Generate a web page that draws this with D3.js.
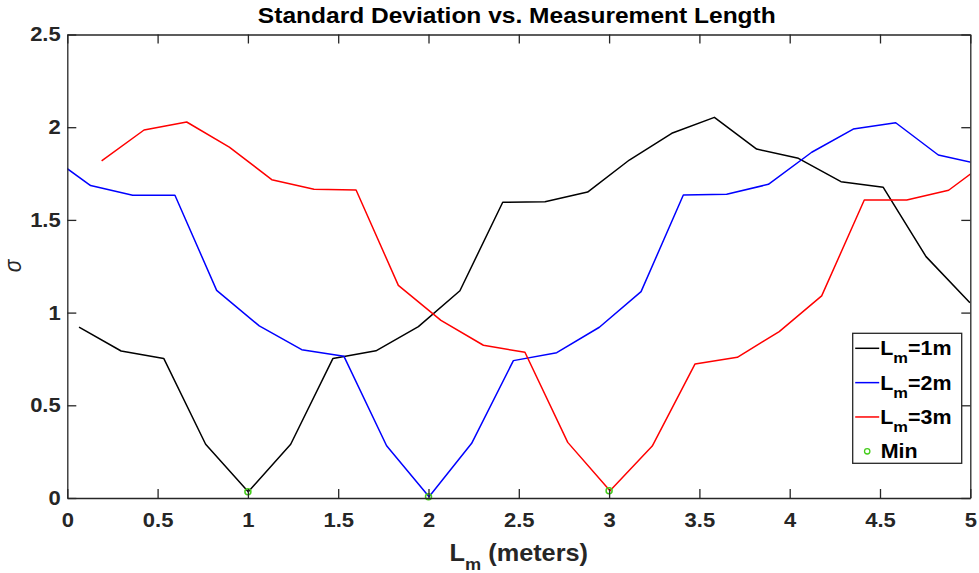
<!DOCTYPE html>
<html>
<head>
<meta charset="utf-8">
<script src="https://cdn.jsdelivr.net/npm/d3@7"></script>
<style>
  body { margin: 0; background: #fff; }
  svg { display: block; font-family: Arial, 'Liberation Sans', sans-serif; }
</style>
</head>
<body>
<svg id="chart" width="979" height="573"></svg>
<script>
// values
var xTicks = [0, 0.5, 1, 1.5, 2, 2.5, 3, 3.5, 4, 4.5, 5];
var yTicks = [0, 0.5, 1, 1.5, 2, 2.5];

var lm1X = [0.065, 0.298, 0.534, 0.766, 1.002, 1.237, 1.471, 1.709, 1.944, 2.174, 2.411, 2.645, 2.881, 3.112, 3.347, 3.583, 3.817, 4.048, 4.284, 4.518, 4.755, 4.998];
var lm1Y = [0.922, 0.793, 0.753, 0.29, 0.034, 0.29, 0.753, 0.794, 0.924, 1.118, 1.595, 1.598, 1.65, 1.823, 1.967, 2.053, 1.882, 1.832, 1.706, 1.676, 1.302, 1.053];

var lm2X = [-0.105, 0.129, 0.362, 0.596, 0.827, 1.063, 1.298, 1.532, 1.768, 2.003, 2.239, 2.47, 2.71, 2.946, 3.177, 3.411, 3.651, 3.882, 4.122, 4.352, 4.587, 4.823, 5.057];
var lm2Y = [1.85, 1.685, 1.633, 1.633, 1.12, 0.928, 0.8, 0.764, 0.282, 0.007, 0.295, 0.741, 0.784, 0.921, 1.113, 1.634, 1.638, 1.692, 1.865, 1.99, 2.024, 1.85, 1.8];

var lm3X = [0.19, 0.425, 0.661, 0.897, 1.132, 1.366, 1.599, 1.833, 2.069, 2.304, 2.534, 2.771, 3.005, 3.239, 3.476, 3.71, 3.942, 4.177, 4.413, 4.648, 4.88, 5.115];
var lm3Y = [1.818, 1.985, 2.028, 1.893, 1.717, 1.665, 1.661, 1.147, 0.958, 0.824, 0.786, 0.3, 0.039, 0.28, 0.723, 0.759, 0.897, 1.09, 1.607, 1.607, 1.66, 1.83];

var minX = [1.0, 2.0, 3.0];
var minY = [0.034, 0.007, 0.039];

var seriesNames = ['1m', '2m', '3m'];

(function () {
  var svg = d3.select('#chart');
  var margins = { top: 34.5, right: 8.7, bottom: 75, left: 67.3 };
  var width = 979 - margins.left - margins.right;
  var height = 573 - margins.top - margins.bottom;
  var axisColor = '#262626';
  var tickLen = 9;
  var sx = 1.1; // the figure's text is a bit wider than plain Arial

  var g = svg.append('g').attr('transform', 'translate(' + margins.left + ',' + margins.top + ')');

  var x = d3.scaleLinear().domain([0, 5]).range([0, width]);
  var y = d3.scaleLinear().domain([0, 2.5]).range([height, 0]);

  svg.append('defs').append('clipPath').attr('id', 'plot-clip')
    .append('rect').attr('width', width).attr('height', height);

  var series = [
    { xs: lm1X, ys: lm1Y, color: '#000000' },
    { xs: lm2X, ys: lm2Y, color: '#0000ff' },
    { xs: lm3X, ys: lm3Y, color: '#ff0000' }
  ];

  var line = d3.line().x(function (d) { return x(d[0]); }).y(function (d) { return y(d[1]); });

  var plot = g.append('g').attr('clip-path', 'url(#plot-clip)');
  series.forEach(function (s) {
    plot.append('path')
      .datum(d3.zip(s.xs, s.ys))
      .attr('d', line)
      .attr('fill', 'none')
      .attr('stroke', s.color)
      .attr('stroke-width', 1.5)
      .attr('stroke-linejoin', 'round');
  });

  g.append('g').selectAll('circle').data(d3.zip(minX, minY)).enter().append('circle')
    .attr('cx', function (d) { return x(d[0]); })
    .attr('cy', function (d) { return y(d[1]); })
    .attr('r', 3)
    .attr('fill', 'none')
    .attr('stroke', '#44cc1a')
    .attr('stroke-width', 1.5);

  // axes, ticks pointing inward on all four sides
  var xAxis = d3.axisBottom(x).tickValues(xTicks).tickFormat(d3.format('')).tickSizeInner(-tickLen).tickSizeOuter(0).tickPadding(15);
  var yAxis = d3.axisLeft(y).tickValues(yTicks).tickFormat(d3.format('')).tickSizeInner(-tickLen).tickSizeOuter(0).tickPadding(6.6);
  var xTop = d3.axisTop(x).tickValues(xTicks).tickFormat('').tickSizeInner(-tickLen).tickSizeOuter(0);
  var yRight = d3.axisRight(y).tickValues(yTicks).tickFormat('').tickSizeInner(-tickLen).tickSizeOuter(0);

  var axes = [
    g.append('g').attr('transform', 'translate(0,' + height + ')').call(xAxis),
    g.append('g').call(yAxis),
    g.append('g').call(xTop),
    g.append('g').attr('transform', 'translate(' + width + ',0)').call(yRight)
  ];
  axes.forEach(function (a) {
    a.select('.domain').attr('stroke', axisColor).attr('stroke-width', 1.3);
    a.selectAll('.tick line').attr('stroke', axisColor).attr('stroke-width', 1.3);
    a.selectAll('.tick text').attr('fill', axisColor).attr('font-size', 20).attr('font-weight', 'bold');
  });
  // stretch tick labels around their anchor
  axes[0].selectAll('.tick text').attr('transform', 'scale(' + sx + ',1)');
  axes[1].selectAll('.tick text').attr('x', -6.6 / sx).attr('transform', 'scale(' + sx + ',1)');

  function place(px, py) {
    return 'translate(' + px + ',' + py + ') scale(' + sx + ',1)';
  }

  // title
  svg.append('text')
    .attr('transform', place(margins.left + width / 2 - 2, 23))
    .attr('text-anchor', 'middle')
    .attr('font-size', 22.3)
    .attr('font-weight', 'bold')
    .attr('fill', '#000')
    .text('Standard Deviation vs. Measurement Length');

  // x label with subscript
  var xl = svg.append('text')
    .attr('transform', place(margins.left + width / 2, 560.5))
    .attr('text-anchor', 'middle')
    .attr('font-size', 23)
    .attr('font-weight', 'bold')
    .attr('fill', axisColor);
  xl.append('tspan').text('L');
  xl.append('tspan').attr('dy', 9).attr('font-size', 16.5).text('m');
  xl.append('tspan').attr('dy', -9).text(' (meters)');

  // y label
  svg.append('text')
    .attr('transform', 'translate(21,266) rotate(-90) scale(1,' + sx + ')')
    .attr('text-anchor', 'middle')
    .attr('font-size', 21)
    .attr('font-style', 'italic')
    .attr('fill', axisColor)
    .text('σ');

  // legend
  var legend = svg.append('g').attr('transform', 'translate(852.7,333.3)');
  legend.append('rect')
    .attr('width', 109).attr('height', 130)
    .attr('fill', '#fff')
    .attr('stroke', axisColor)
    .attr('stroke-width', 1.3);

  var rowY = d3.scalePoint().domain(d3.range(4)).range([15, 118]);

  series.forEach(function (s, i) {
    var ry = rowY(i);
    legend.append('line')
      .attr('x1', 2.5).attr('x2', 26.5)
      .attr('y1', ry).attr('y2', ry)
      .attr('stroke', s.color).attr('stroke-width', 1.5);
    var t = legend.append('text')
      .attr('transform', place(27.5, ry + 7))
      .attr('font-size', 19.5).attr('font-weight', 'bold').attr('fill', '#000');
    t.append('tspan').text('L');
    t.append('tspan').attr('dy', 8).attr('font-size', 15).text('m');
    t.append('tspan').attr('dy', -8).text('=' + seriesNames[i]);
  });

  legend.append('circle')
    .attr('cx', 14.5).attr('cy', rowY(3))
    .attr('r', 2.7)
    .attr('fill', 'none')
    .attr('stroke', '#44cc1a')
    .attr('stroke-width', 1.3);
  legend.append('text')
    .attr('transform', place(28, rowY(3) + 7))
    .attr('font-size', 19.5).attr('font-weight', 'bold').attr('fill', '#000')
    .text('Min');
})();
</script>
</body>
</html>
